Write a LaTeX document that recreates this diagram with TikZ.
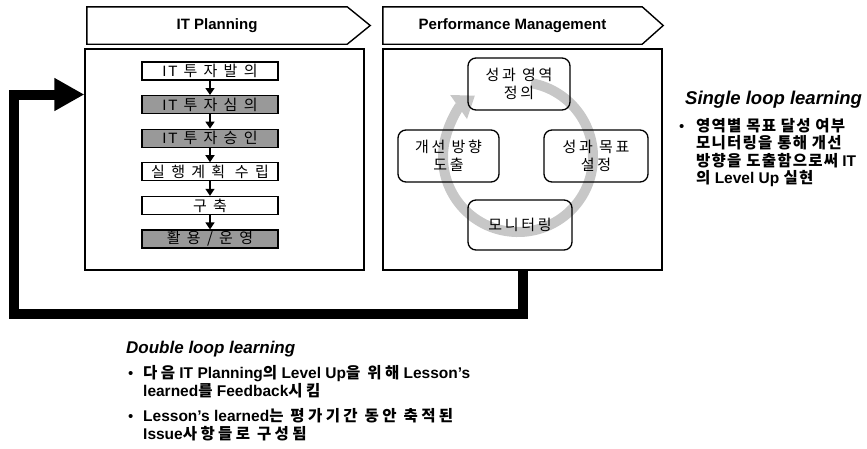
\documentclass[tikz,border=0pt]{standalone}
\usepackage{fontspec}
\setmainfont{Liberation Sans}
\newfontfamily\kr{Noto Sans CJK KR}
\newfontfamily\krfl{Noto Sans CJK KR}[LetterSpace=42]
\newfontfamily\krcy{Noto Sans CJK KR}[LetterSpace=18]
\newfontfamily\krsl{Noto Sans CJK KR}[LetterSpace=8, Scale=1.0]
\newfontfamily\krdl{Noto Sans CJK KR}[LetterSpace=22, Scale=1.0]
\newfontfamily\lasp{Liberation Sans}[LetterSpace=12]
\usetikzlibrary{arrows.meta,calc}
\newcommand\K[1]{{\kfont #1}}
\let\kfont\kr
\tikzset{
  panel/.style={draw, line width=1.3pt, minimum width=279pt, minimum height=221pt, inner sep=0pt},
  hdr/.style={minimum height=37pt, minimum width=260pt, inner sep=0pt, font=\fontsize{15}{18}\selectfont\bfseries},
  hdrline/.style={line width=1.4pt, line join=miter},
  flowbox/.style={draw, line width=1.2pt, minimum width=136pt, minimum height=18pt, inner sep=0pt,
    font=\fontsize{15}{15}\selectfont\lasp\let\kfont\krfl},
  flowgrey/.style={flowbox, fill=black!40},
  flowarr/.style={line width=1.5pt, -{Triangle[length=7pt 0, width=9pt 0]}},
  cycbox/.style={draw, line width=1.3pt, rounded corners=8pt, minimum height=52pt, inner sep=0pt, align=center,
    font=\fontsize{15}{18}\selectfont\let\kfont\krcy},
  cycband/.style={line width=10pt, draw=black!22, -{Triangle[length=20pt 0, width=28pt 0]}},
  feedback/.style={line width=10pt, line join=miter, -{Triangle[length=30pt 0, width=31pt 0]}},
  title/.style={anchor=base west, inner sep=0pt},
  btext/.style={anchor=base west, inner sep=0pt, align=left},
}
\begin{document}
\lineskiplimit=-50pt
\begin{tikzpicture}[x=1pt, y=-1pt]
\useasboundingbox (0,0) rectangle (867,448);

% headers
\node[hdr] (h1) at (217,25.5) {IT Planning};
\draw[hdrline] (h1.north west) -- (h1.north east) -- ($(h1.east)+(23,0)$) -- (h1.south east) -- (h1.south west) -- cycle;
\node[hdr, minimum width=259pt] (h2) at (512.5,25.5) {Performance Management};
\draw[hdrline] (h2.north west) -- (h2.north east) -- ($(h2.east)+(21,0)$) -- (h2.south east) -- (h2.south west) -- cycle;

% panels
\node[panel] (it) at (224.5,159.5) {};
\node[panel] (pm) at (522.5,159.5) {};

% flow
\node[flowbox]  (f1) at (210,71)    {IT \K{투자발의}};
\node[flowgrey] (f2) at (210,104.6) {IT \K{투자심의}};
\node[flowgrey] (f3) at (210,138.2) {IT \K{투자승인}};
\node[flowbox]  (f4) at (210,171.8) {\K{실행계획 수립}};
\node[flowbox]  (f5) at (210,205.4) {\K{구축}};
\node[flowgrey] (f6) at (210,239)   {\K{활용/운영}};
\foreach \a/\b in {f1/f2,f2/f3,f3/f4,f4/f5,f5/f6}
  \draw[flowarr] (\a) -- (\b);

% cycle
\coordinate (cc) at (518,157);
\draw[cycband] ($(cc)+(80:75pt)$) arc[start angle=80, end angle=-235, radius=75pt];
\node[cycbox, minimum width=102pt] (c1) at (519,84)    {\K{성과 영역}\\\K{정의}};
\node[cycbox, minimum width=101pt] (c2) at (448.5,156) {\K{개선 방향}\\\K{도출}};
\node[cycbox, minimum width=104pt] (c3) at (596,156)   {\K{성과 목표}\\\K{설정}};
\node[cycbox, minimum width=104pt, minimum height=50pt] (c4) at (520,225) {\K{모니터링}};

% feedback loop
\coordinate (fbL) at (14,314);
\coordinate (fbT) at (14,94.5);
\draw[feedback] (pm.south) |- (fbL) -- (fbT) -- (it.west |- fbT);

% single loop text
\node[title, font=\fontsize{18.5}{22}\selectfont\bfseries\itshape] (slt) at (685,104) {Single loop learning};
\node[btext, font=\fontsize{15}{17.5}\selectfont] (sb) at (679,131) {\textbullet};
\node[btext, font=\fontsize{15.5}{17.5}\selectfont\bfseries\let\kfont\krsl] (st) at (696,183.5)
  {\K{영역별 목표 달성 여부}\\\K{모니터링을 통해 개선}\\\K{방향을 도출함으로써} IT\\\K{의} Level Up \K{실현}};

% double loop text
\node[title, font=\fontsize{17}{20}\selectfont\bfseries\itshape] (dlt) at (126,353) {Double loop learning};
\node[btext, font=\fontsize{15}{18}\selectfont] (db1) at (128,378) {\textbullet};
\node[btext, font=\fontsize{15.5}{18}\selectfont\bfseries\let\kfont\krdl] (dt1) at (143,396)
  {\K{다음} IT Planning\K{의} Level Up\K{을 위해} Lesson’s\\learned\K{를} Feedback\K{시킴}};
\node[btext, font=\fontsize{15}{18}\selectfont] (db2) at (128,421) {\textbullet};
\node[btext, font=\fontsize{15.5}{18}\selectfont\bfseries\let\kfont\krdl] (dt2) at (143,439)
  {Lesson’s learned\K{는 평가기간 동안 축적된}\\Issue\K{사항들로 구성됨}};
\end{tikzpicture}
\end{document}
